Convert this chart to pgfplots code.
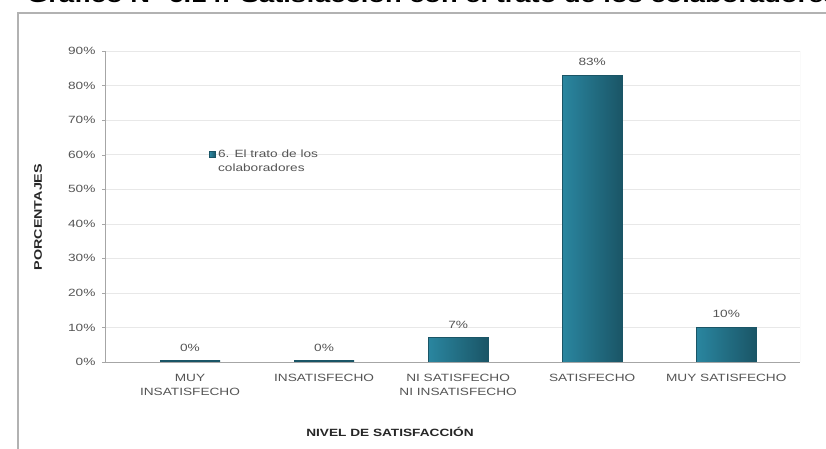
\documentclass[border=0pt]{standalone}
\usepackage{pgfplots}
\pgfplotsset{compat=1.18}
\usepackage{fontspec}
\setmainfont{Liberation Sans}
\newfontfamily\wf[FakeStretch=1.3]{Liberation Sans}
\definecolor{barL}{HTML}{2A86A0}
\definecolor{barM}{HTML}{3096B0}
\definecolor{barR}{HTML}{1A5566}
\definecolor{txt}{HTML}{555555}
\begin{document}
\begin{tikzpicture}[x=1pt,y=1pt]
\useasboundingbox (0,0) rectangle (826,449);
\clip (0,0) rectangle (826,449);
\fill[white] (0,0) rectangle (826,449);
\node[anchor=base west, font=\wf\bfseries\fontsize{21}{24}\selectfont, inner sep=0] at (27,446) {Gráfico N° 6.14: Satisfacción con el trato de los colaboradores};
\draw[gray!60, line width=1.3pt] (18,-5) -- (18,436) -- (840,436);
\begin{axis}[
  at={(105pt,87pt)}, anchor=south west,
  scale only axis, width=695pt, height=311pt,
  xmin=-0.634, xmax=4.55, ymin=0, ymax=90,
  ytick={0,10,...,90},
  yticklabel={\pgfmathprintnumber{\tick}\%},
  /pgf/number format/assume math mode=true,
  ymajorgrids, grid style={gray!18},
  axis x line*=bottom, axis y line*=left,
  axis line style={gray!70},
  tick style={gray!70}, tick align=outside, major tick length=3pt,
  xtick={0,1,2,3,4},
  xticklabels={{MUY\\INSATISFECHO},{INSATISFECHO},{NI SATISFECHO\\NI INSATISFECHO},{SATISFECHO},{MUY SATISFECHO}},
  xticklabel style={align=center, font=\wf\fontsize{10.5}{14}\selectfont, text=txt, yshift=-6pt},
  x tick style={draw=none},
  yticklabel style={font=\wf\fontsize{10.5}{12}\selectfont, text=txt, xshift=-3pt},
  ybar, bar width=60pt, bar shift=0pt,
  nodes near coords={\pgfmathprintnumber{\pgfplotspointmeta}\%},
  nodes near coords style={font=\wf\fontsize{10.5}{12}\selectfont, text=txt, yshift=6pt},
  xlabel={NIVEL DE SATISFACCIÓN},
  xlabel style={at={(axis description cs:0.41,-0.225)}, anchor=center, font=\wf\bfseries\fontsize{10.5}{12}\selectfont, text=black!85},
  ylabel={PORCENTAJES},
  ylabel style={at={(axis description cs:-0.0964,0.466)}, anchor=center, font=\wf\bfseries\fontsize{11}{12}\selectfont, text=black!85},
  legend style={draw=none, fill=none, at={(axis cs:0.12,62.6)}, anchor=north west, font=\wf\fontsize{10.5}{14}\selectfont, text=txt, nodes={align=left}},
  legend image code/.code={\fill[barR] (0pt,4pt) rectangle (6pt,10pt);},
  bars/.style={draw=barR, line width=0.8pt, left color=barL, middle color=barM, right color=barR},
  flat/.style={draw=barR, line width=3pt, fill=barR},
]
\draw[gray!30] (rel axis cs:1,0) -- (rel axis cs:1,1);
\addplot[bars] coordinates {(3,83)};
\addlegendentry{6. El trato de los\\colaboradores}
\addplot[bars, forget plot] coordinates {(2,7)};
\addplot[bars, forget plot] coordinates {(4,10)};
\addplot[flat, forget plot] coordinates {(0,0)};
\addplot[flat, forget plot] coordinates {(1,0)};
\end{axis}
\end{tikzpicture}
\end{document}
